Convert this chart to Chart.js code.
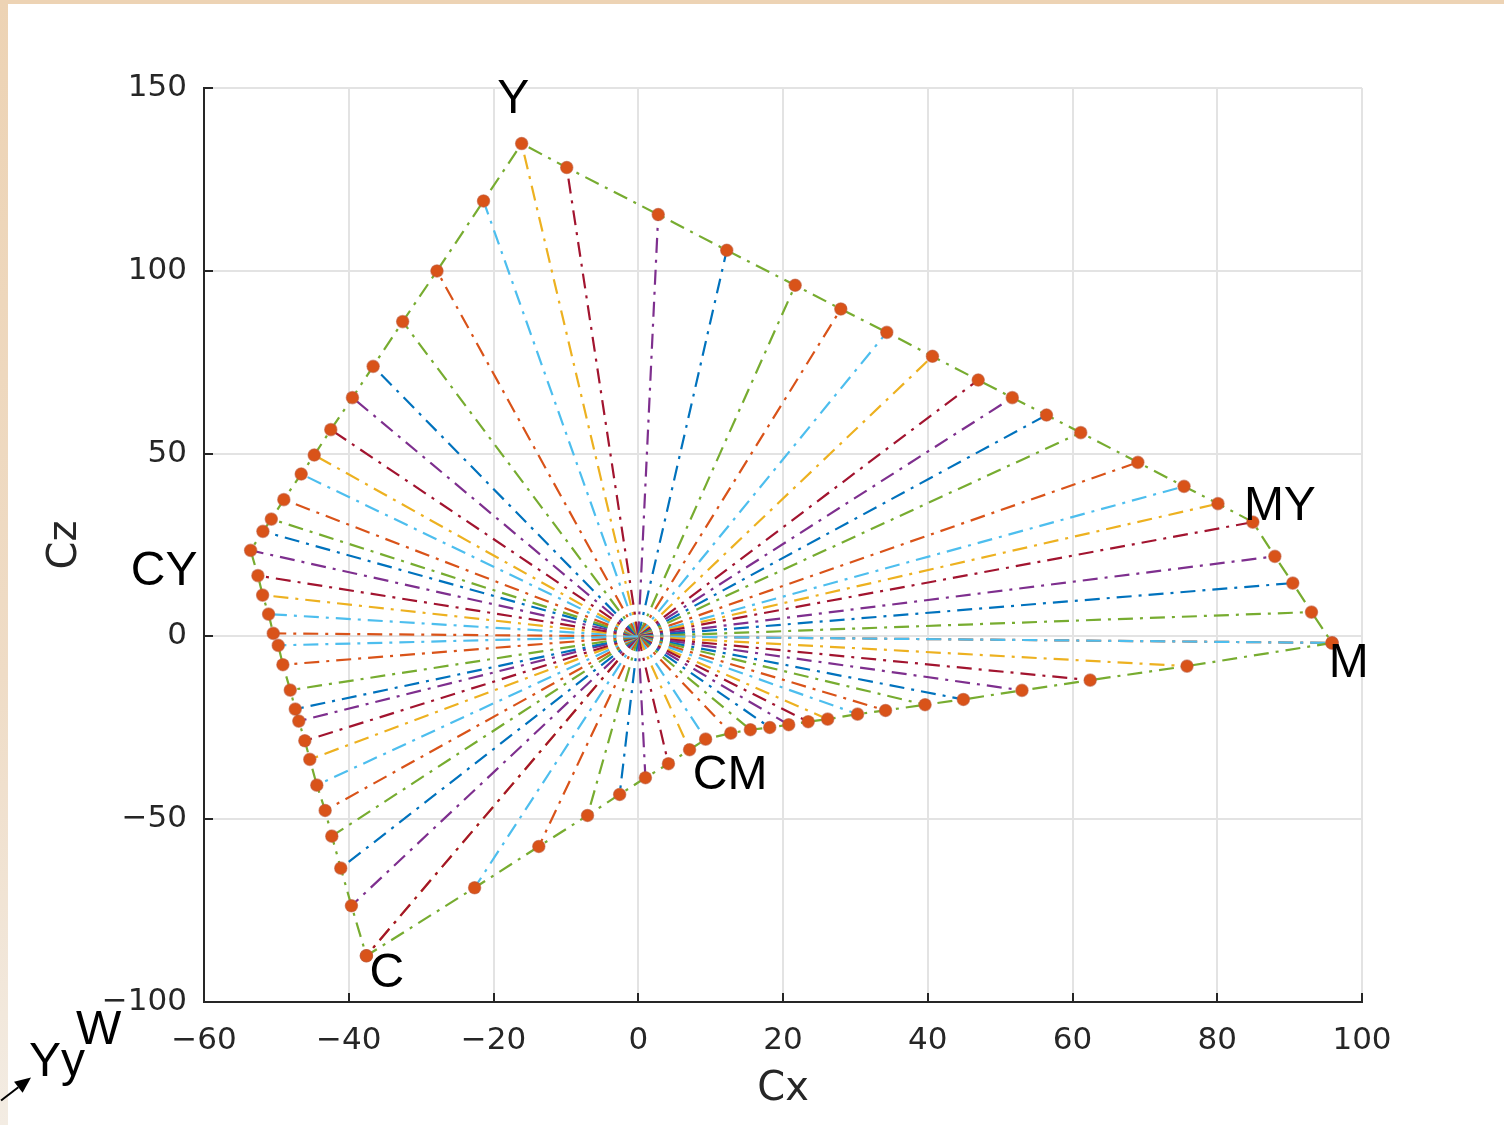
<!DOCTYPE html>
<html>
<head>
<meta charset="utf-8">
<script src="https://cdn.jsdelivr.net/npm/chart.js@4.4.1/dist/chart.umd.min.js"></script>
<style>
  html, body { margin: 0; padding: 0; width: 1504px; height: 1125px; overflow: hidden; }
  body { background: linear-gradient(180deg, #EDD3B4 0%, #EFDCC6 60%, #F3ECE3 100%); position: relative; }
  #paper { position: absolute; left: 8px; top: 4px; right: 0; bottom: 0; background: #ffffff; }
  #wrap { position: absolute; left: 0; top: 0; width: 1504px; height: 1125px; }
</style>
</head>
<body>
<div id="paper"></div>
<div id="wrap"><canvas id="c" width="1504" height="1125"></canvas></div>
<script>
// ---- Data ----
// Gamut boundary points (Cx, Cz), in drawing order around the loop
const boundaryCx = [
  -49.74, -49.10, -48.08, -47.39, -46.90, -46.07, -45.38, -44.41, -43.26, -42.34, -41.10, -39.63,
  -37.56, -37.56,
  -22.61, -13.74, -7.01, -2.57, 0.99, 4.17, 7.09, 9.31, 12.79, 15.49, 18.17, 20.79, 23.48, 26.17,
  30.30, 34.17, 39.63, 44.92, 53.02, 62.44, 75.82,
  95.86, 95.86,
  93.02, 90.44, 87.96, 84.92, 80.10, 75.41, 69.03, 61.14, 56.41, 51.68, 46.97, 40.65, 34.34, 27.99,
  21.68, 12.23, 2.76, -9.88,
  -16.11,
  -21.38, -27.81, -32.55, -36.63, -39.49, -42.48, -44.77, -46.57, -48.97, -50.70, -51.86, -53.56,
  -52.55, -51.90, -51.08, -50.43
];
const boundaryCz = [
  -2.46, -7.74, -14.69, -19.89, -23.17, -28.54, -33.65, -40.68, -47.61, -54.64, -63.39, -73.68,
  -87.36, -87.36,
  -68.75, -57.46, -48.97, -43.23, -38.66, -34.83, -31.00, -28.10, -26.46, -25.53, -24.90, -24.16,
  -23.34, -22.63, -21.26, -20.25, -18.69, -17.24, -14.77, -11.96, -8.13,
  -1.78, -1.78,
  6.65, 14.58, 21.89, 31.27, 36.31, 41.04, 47.61, 55.73, 60.55, 65.31, 70.12, 76.61, 83.17, 89.55,
  96.03, 105.61, 115.38, 128.24,
  134.80,
  119.10, 99.95, 86.10, 73.87, 65.31, 56.55, 49.60, 44.41, 37.40, 32.09, 28.73, 23.53,
  16.61, 11.30, 6.10, 0.82
];
// Centre (white point) from which every ray starts
const originCx = 0;
const originCz = 0;

// Axis ticks
const xTicks = [-60, -40, -20, 0, 20, 40, 60, 80, 100];
const yTicks = [-100, -50, 0, 50, 100, 150];
const xTitle = 'Cx';
const yTitle = 'Cz';

// Text annotations (data coordinates: left edge, vertical middle)
const labelTexts = ['Y', 'MY', 'CY', 'M', 'CM', 'C', 'W', 'Yy'];
const labelCx = [-19.49, 83.68, -70.11, 95.41, 7.54, -37.14, -77.70, -84.18];
const labelCz = [146.65, 35.57, 17.78, -7.39, -38.03, -92.20, -107.80, -116.55];
// Arrow annotation (tail -> head), data coordinates
const arrowCx = [-88.04, -83.90];
const arrowCz = [-126.95, -120.66];

// ---- Styling ----
const palette = ['#0072BD', '#D95319', '#EDB120', '#7E2F8E', '#77AC30', '#4DBEEE', '#A2142F'];
const dashDot = [15, 7, 3, 7];
const axisColor = '#262626';
const tickFont = { family: 'DejaVu Sans', size: 31 };
const titleFont = { family: 'DejaVu Sans', size: 40 };

const datasets = [];
// rays from the centre to every boundary point
for (let i = 0; i < boundaryCx.length; i++) {
  datasets.push({
    type: 'scatter',
    data: [{ x: originCx, y: originCz }, { x: boundaryCx[i], y: boundaryCz[i] }],
    showLine: true,
    borderColor: palette[(5 + 3 * i) % 7],
    borderWidth: 2.2,
    borderDash: dashDot,
    pointRadius: 0,
    pointHoverRadius: 0,
    order: 3
  });
}
// boundary loop
const loop = boundaryCx.map((x, i) => ({ x: x, y: boundaryCz[i] }));
loop.push({ x: boundaryCx[0], y: boundaryCz[0] });
datasets.push({
  type: 'scatter',
  data: loop,
  showLine: true,
  borderColor: '#77AC30',
  borderWidth: 2.2,
  borderDash: dashDot,
  pointRadius: 0,
  order: 2
});
// markers
datasets.push({
  type: 'scatter',
  data: boundaryCx.map((x, i) => ({ x: x, y: boundaryCz[i] })),
  showLine: false,
  pointRadius: 6.2,
  pointBackgroundColor: '#D95319',
  pointBorderColor: 'rgba(190,90,60,0.55)',
  pointBorderWidth: 1.2,
  order: 1
});

const minusFmt = v => (v < 0 ? '\u2212' + Math.abs(v) : String(v));

const innerTicks = {
  id: 'innerTicks',
  beforeDatasetsDraw(chart) {
    const ctx = chart.ctx, xs = chart.scales.x, ys = chart.scales.y;
    const a = chart.chartArea;
    ctx.save();
    ctx.strokeStyle = axisColor;
    ctx.lineWidth = 2;
    ctx.beginPath();
    xTicks.forEach(v => {
      const px = Math.round(xs.getPixelForValue(v));
      ctx.moveTo(px, a.bottom);
      ctx.lineTo(px, a.bottom - 9);
    });
    yTicks.forEach(v => {
      const py = Math.round(ys.getPixelForValue(v));
      ctx.moveTo(a.left, py);
      ctx.lineTo(a.left + 9, py);
    });
    ctx.stroke();
    ctx.restore();
  }
};

const annotations = {
  id: 'annotations',
  afterDraw(chart) {
    const ctx = chart.ctx, xs = chart.scales.x, ys = chart.scales.y;
    ctx.save();
    ctx.fillStyle = '#000000';
    ctx.font = '48px "Liberation Sans", Arial, sans-serif';
    ctx.textAlign = 'left';
    ctx.textBaseline = 'middle';
    labelTexts.forEach((t, i) => {
      ctx.fillText(t, xs.getPixelForValue(labelCx[i]), ys.getPixelForValue(labelCz[i]));
    });
    // arrow
    const x0 = xs.getPixelForValue(arrowCx[0]), y0 = ys.getPixelForValue(arrowCz[0]);
    const x1 = xs.getPixelForValue(arrowCx[1]), y1 = ys.getPixelForValue(arrowCz[1]);
    const ang = Math.atan2(y1 - y0, x1 - x0);
    const hl = 16, hw = 7;
    const bx = x1 - hl * Math.cos(ang), by = y1 - hl * Math.sin(ang);
    ctx.strokeStyle = '#000000';
    ctx.lineWidth = 2;
    ctx.beginPath();
    ctx.moveTo(x0, y0);
    ctx.lineTo(bx, by);
    ctx.stroke();
    ctx.beginPath();
    ctx.moveTo(x1, y1);
    ctx.lineTo(bx + hw * Math.sin(ang), by - hw * Math.cos(ang));
    ctx.lineTo(bx - hw * Math.sin(ang), by + hw * Math.cos(ang));
    ctx.closePath();
    ctx.fill();
    ctx.restore();
  }
};

new Chart(document.getElementById('c'), {
  data: { datasets: datasets },
  options: {
    responsive: false,
    animation: false,
    events: [],
    layout: { padding: { left: 0, top: 88, right: 142, bottom: 0 } },
    plugins: { legend: { display: false }, tooltip: { enabled: false } },
    scales: {
      x: {
        type: 'linear',
        min: -60, max: 100,
        afterFit(s) { s.height = 123; },
        afterBuildTicks(s) { s.ticks = xTicks.map(v => ({ value: v })); },
        grid: { color: '#E3E3E3', lineWidth: 2, drawTicks: false },
        border: { display: true, color: axisColor, width: 2 },
        ticks: { font: tickFont, color: axisColor, padding: 20, maxRotation: 0, callback: minusFmt },
        title: { display: true, text: xTitle, font: titleFont, color: axisColor, padding: { top: 0, bottom: 11 } }
      },
      y: {
        type: 'linear',
        min: -100, max: 150,
        afterFit(s) { s.width = 204; },
        afterBuildTicks(s) { s.ticks = yTicks.map(v => ({ value: v })); },
        grid: { color: '#E3E3E3', lineWidth: 2, drawTicks: false },
        border: { display: true, color: axisColor, width: 2 },
        ticks: { font: tickFont, color: axisColor, padding: 17, callback: minusFmt },
        title: { display: true, text: yTitle, font: titleFont, color: axisColor, padding: { top: 42, bottom: 0 } }
      }
    }
  },
  plugins: [innerTicks, annotations]
});
</script>
</body>
</html>
